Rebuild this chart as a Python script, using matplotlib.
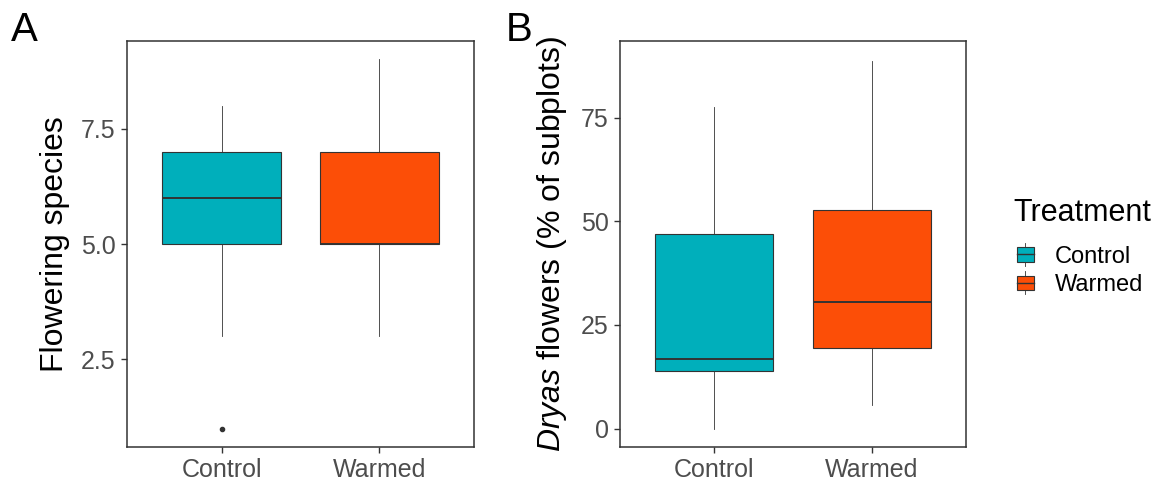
import numpy as np
import matplotlib.pyplot as plt
from matplotlib.patches import Rectangle
from matplotlib.lines import Line2D
from matplotlib.legend_handler import HandlerBase

plt.rcParams['font.family'] = ['Liberation Sans', 'DejaVu Sans']
plt.rcParams['mathtext.fontset'] = 'custom'
plt.rcParams['mathtext.it'] = 'Liberation Sans:italic'
plt.rcParams['mathtext.rm'] = 'Liberation Sans'

treatments = ['Control', 'Warmed']
colors = ['#00AFBB', '#FC4E07']

# panel A: flowering species (whislo, q1, med, q3, whishi, outliers)
species_lo = [3, 3]
species_q1 = [5, 5]
species_med = [6, 5]
species_q3 = [7, 7]
species_hi = [8, 9]
species_out = [[1], []]

# panel B: Dryas flowers (% of subplots)
dryas_lo = [0, 5.7]
dryas_q1 = [13.8, 19.4]
dryas_med = [16.7, 30.5]
dryas_q3 = [47.0, 52.6]
dryas_hi = [77.6, 88.7]
dryas_out = [[], []]

edge = '#333333'


def make_stats(lo, q1, med, q3, hi, out):
    return [dict(whislo=lo[i], q1=q1[i], med=med[i], q3=q3[i], whishi=hi[i],
                 fliers=out[i], label=treatments[i]) for i in range(len(treatments))]


def draw_panel(ax, stats, ticks, ticklabels, ylim):
    bp = ax.bxp(stats, positions=[1, 2], widths=0.75, patch_artist=True,
                showcaps=False, showfliers=True,
                boxprops=dict(edgecolor=edge, linewidth=0.8),
                whiskerprops=dict(color=edge, linewidth=0.6),
                medianprops=dict(color=edge, linewidth=1.4),
                flierprops=dict(marker='o', markersize=3, markerfacecolor=edge,
                                markeredgecolor=edge))
    for patch, c in zip(bp['boxes'], colors):
        patch.set_facecolor(c)
    ax.set_xlim(0.4, 2.6)
    ax.set_ylim(*ylim)
    ax.set_yticks(ticks)
    ax.set_yticklabels(ticklabels)
    ax.set_xticks([1, 2])
    ax.set_xticklabels(treatments)
    ax.tick_params(axis='both', labelsize=18, labelcolor='#4D4D4D', color=edge,
                   length=4.5, width=1.0, pad=3.5)
    for s in ax.spines.values():
        s.set_color(edge)
        s.set_linewidth(1.1)


fig = plt.figure(figsize=(11.69, 4.88), dpi=100)
axA = fig.add_axes([0.1086, 0.084, 0.2969, 0.832])
axB = fig.add_axes([0.5304, 0.084, 0.2960, 0.832])

draw_panel(axA, make_stats(species_lo, species_q1, species_med, species_q3, species_hi, species_out),
           [2.5, 5.0, 7.5], ['2.5', '5.0', '7.5'], (0.6, 9.4))
draw_panel(axB, make_stats(dryas_lo, dryas_q1, dryas_med, dryas_q3, dryas_hi, dryas_out),
           [0, 25, 50, 75], ['0', '25', '50', '75'], (-4.45, 93.45))

axA.set_ylabel('Flowering species', fontsize=23, labelpad=8)
axB.set_ylabel(r'$\it{Dryas}$ flowers (% of subplots)', fontsize=23, labelpad=9)

fig.text(0.009, 0.977, 'A', fontsize=29, va='top', ha='left')
fig.text(0.433, 0.977, 'B', fontsize=29, va='top', ha='left')


class BoxHandler(HandlerBase):
    def create_artists(self, legend, orig_handle, xdescent, ydescent, width, height, fontsize, trans):
        x0, y0 = -xdescent, -ydescent
        h = height * 1.3
        y0 = y0 - (h - height) / 2
        cx = x0 + width / 2
        rect = Rectangle((x0, y0 + 0.2 * h), width, 0.6 * h,
                         facecolor=orig_handle.get_facecolor(), edgecolor=edge,
                         linewidth=0.8, transform=trans)
        w1 = Line2D([cx, cx], [y0, y0 + 0.2 * h], color=edge, lw=0.6, transform=trans)
        w2 = Line2D([cx, cx], [y0 + 0.8 * h, y0 + h], color=edge, lw=0.6, transform=trans)
        med = Line2D([x0, x0 + width], [y0 + 0.5 * h, y0 + 0.5 * h], color=edge, lw=1.0, transform=trans)
        return [w1, w2, rect, med]


fig.text(0.867, 0.595, 'Treatment', fontsize=22, va='top', ha='left')
handles = [Rectangle((0, 0), 1, 1, facecolor=c) for c in colors]
leg = fig.legend(handles, treatments, handler_map={Rectangle: BoxHandler()},
                 loc='upper left', bbox_to_anchor=(0.870, 0.497), frameon=False,
                 fontsize=17, handlelength=0.7, handleheight=0.8, handletextpad=0.9,
                 labelspacing=0.25, borderpad=0, borderaxespad=0)

fig.savefig('out.png', dpi=100)
